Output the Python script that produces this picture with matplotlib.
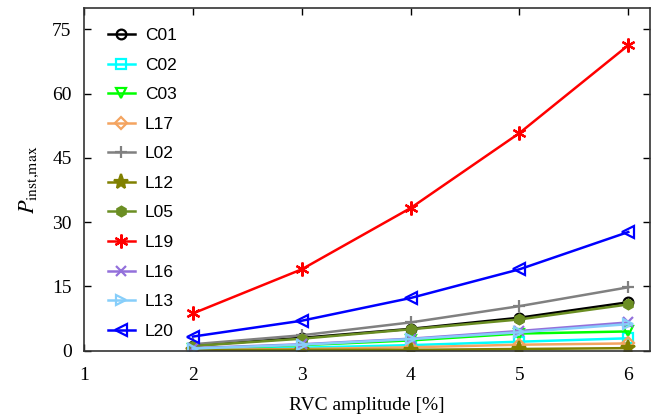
import matplotlib.pyplot as plt
import numpy as np

plt.rcParams["font.family"] = ["Liberation Serif", "DejaVu Serif"]
plt.rcParams["mathtext.fontset"] = "stix"

# RVC amplitude [%]
amplitude = [2, 3, 4, 5, 6]

# P_inst,max per case
c01 = [1.2, 3.0, 5.1, 7.7, 11.3]
c02 = [0.3, 0.7, 1.3, 2.1, 2.9]
c03 = [0.5, 1.3, 2.4, 4.0, 4.5]
l17 = [0.2, 0.4, 0.8, 1.4, 1.7]
l02 = [1.5, 3.6, 6.6, 10.4, 14.8]
l12 = [0.1, 0.2, 0.2, 0.4, 0.6]
l05 = [1.1, 2.8, 5.0, 7.3, 10.8]
l19 = [8.7, 19.0, 33.3, 50.8, 71.3]
l16 = [0.6, 1.5, 2.8, 4.6, 6.6]
l13 = [0.5, 1.4, 2.7, 4.3, 6.2]
l20 = [3.3, 7.0, 12.3, 19.0, 27.7]

g_lw = 1.8

series = [
    ("C01", c01, "black", "o", "none", 7),
    ("C02", c02, "cyan", "s", "none", 7),
    ("C03", c03, "lime", "v", "none", 7),
    ("L17", l17, "#f4a460", "D", "none", 6),
    ("L02", l02, "gray", "+", None, 9),
    ("L12", l12, "#808000", "*", None, 11),
    ("L05", l05, "#6b8e23", "h", None, 7),
    ("L19", l19, "red", (6, 2, 0), None, 10),
    ("L16", l16, "#9370db", "x", None, 7),
    ("L13", l13, "#87cefa", ">", "none", 7),
    ("L20", l20, "blue", "<", "none", 8),
]


def main():
    fig = plt.figure(figsize=(6.52, 4.19), dpi=100)
    ax = fig.add_axes([0.129, 0.163, 0.868, 0.818])

    for label, vals, color, marker, mfc, ms in series:
        kw = dict(color=color, linewidth=g_lw, marker=marker, markersize=ms,
                  markeredgewidth=1.6, label=label)
        if mfc is not None:
            kw["markerfacecolor"] = mfc
        ax.plot(amplitude, vals, **kw)

    ax.set_xlim(1, 6.2)
    ax.set_ylim(0, 80)
    ax.set_xticks([1, 2, 3, 4, 5, 6])
    ax.set_yticks([0, 15, 30, 45, 60, 75])
    ax.tick_params(direction="in", top=True, right=True, labelsize=14,
                   length=5, width=1)
    ax.tick_params(axis="x", pad=12)
    ax.tick_params(axis="y", pad=9)
    for sp in ax.spines.values():
        sp.set_linewidth(1.2)
        sp.set_color("#333333")

    ax.set_xlabel("RVC amplitude [%]", fontsize=14, labelpad=9)
    ax.set_ylabel(r"$P_{\mathrm{inst{,}max}}$", fontsize=16, labelpad=8)

    ax.legend(loc="upper left", bbox_to_anchor=(0.03, 0.962), borderaxespad=0,
              frameon=False, handlelength=1.55, labelspacing=0.83,
              handletextpad=0.57,
              prop={"family": "Liberation Sans", "size": 12.5})

    plt.savefig("out.png", dpi=100)


if __name__ == "__main__":
    main()
